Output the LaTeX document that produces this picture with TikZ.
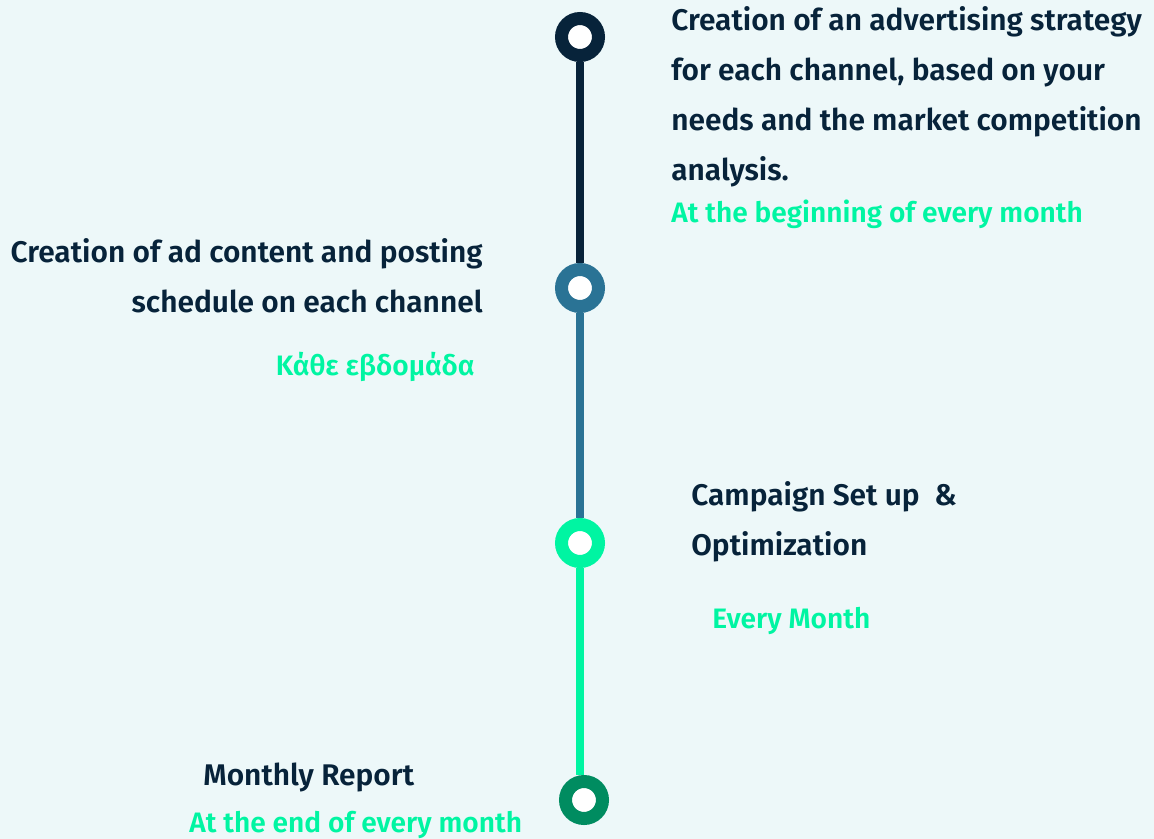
\documentclass[tikz,border=0pt]{standalone}
\usepackage{fontspec}
\setmainfont{Fira Sans}[BoldFont={Fira Sans SemiBold}]
\definecolor{paper}{HTML}{EDF8F9}
\definecolor{navy}{HTML}{07233A}
\definecolor{steel}{HTML}{2A7395}
\definecolor{mint}{HTML}{00F5A2}
\definecolor{pine}{HTML}{008C60}
\tikzset{
  dot/.style={circle, draw=#1, fill=white, line width=0.26cm, minimum size=0.74cm, inner sep=0pt},
  link/.style={draw=#1, line width=0.16cm},
  title/.style={font=\bfseries\fontsize{17}{28.45}\selectfont, text=navy, inner sep=0pt},
  when/.style={font=\bfseries\fontsize{16}{18}\selectfont, text=mint, inner sep=0pt}
}
\begin{document}
\begin{tikzpicture}[x=0.02cm,y=-0.02cm]
  \fill[paper] (0,0) rectangle (1154,839);
  \useasboundingbox (0,0) rectangle (1154,839);
  % timeline
  \node[dot=navy] (s1) at (580,37) {};
  \node[dot=steel] (s2) at (580,288) {};
  \node[dot=mint] (s3) at (580,543) {};
  \node[dot=pine] (s4) at (584,800) {};
  \draw[link=navy] (s1) -- (s2);
  \draw[link=steel] (s2) -- (s3);
  \draw[link=mint] (s3) -- (s3 |- s4.north);
  % steps (anchored at the baseline of the last line)
  \node[title, align=left, anchor=base west] (t1) at (671,180) {Creation of an advertising strategy\\for each channel, based on your\\needs and the market competition\\analysis.};
  \node[when, anchor=base west] (w1) at (671,222) {At the beginning of every month};
  \node[title, align=right, anchor=base east] (t2) at (483,312) {Creation of ad content and posting\\schedule on each channel};
  \node[when, anchor=base east] (w2) at (475,375) {Κάθε εβδομάδα};
  \node[title, align=left, anchor=base west] (t3) at (691,555) {Campaign Set up\ \ \&\\Optimization};
  \node[when, anchor=base west] (w3) at (712,628) {Every Month};
  \node[title, anchor=base west] (t4) at (203,785) {Monthly Report};
  \node[when, anchor=base west] (w4) at (189,832) {At the end of every month};
\end{tikzpicture}
\end{document}
